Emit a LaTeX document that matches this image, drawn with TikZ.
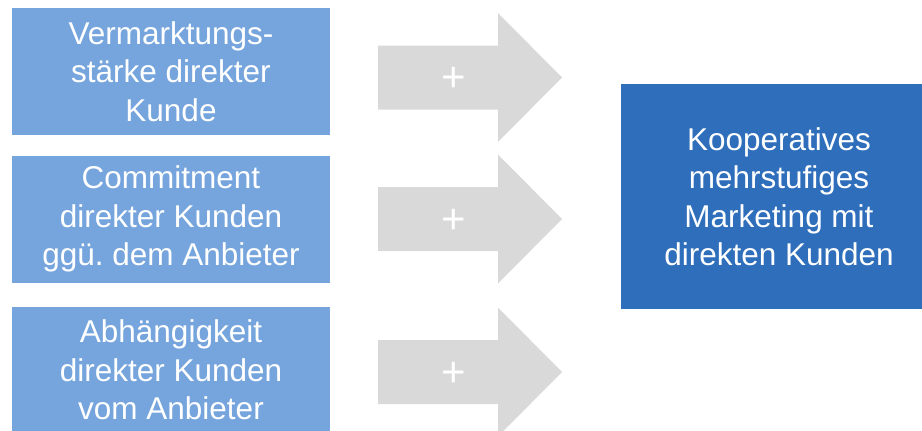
\documentclass[tikz,border=0pt]{standalone}
\usepackage{fontspec}
\setmainfont{Liberation Sans}
\definecolor{lightbox}{RGB}{118,165,221}
\definecolor{darkbox}{RGB}{46,110,187}
\definecolor{arrowgray}{RGB}{217,217,217}
\frenchspacing
\begin{document}
\begin{tikzpicture}[x=1pt,y=-1pt,
  box/.style={fill=lightbox, text=white, align=center, inner sep=0pt,
    font=\fontsize{31.5}{38.5}\selectfont, minimum width=318pt, minimum height=127pt},
  bigbox/.style={fill=darkbox, text=white, align=center, inner sep=0pt,
    font=\fontsize{31.5}{38.5}\selectfont, minimum width=316pt, minimum height=225pt},
  plus/.style={text=white, inner sep=0pt, font=\fontsize{42}{44}\selectfont},
  arrowshape/.style={fill=arrowgray}]
\useasboundingbox (0,0) rectangle (922,431);
\clip (0,0) rectangle (922,431);
\node[box] (b1) at (171,71.5) {Vermarktungs-\\stärke direkter\\Kunde};
\node[box] (b2) at (171,219) {Commitment\\direkter Kunden\\ggü. dem Anbieter};
\node[box] (b3) at (171,370) {Abhängigkeit\\direkter Kunden\\vom Anbieter};
\foreach \c/\n in {77.5/a1,219/a2,372/a3}{
  \fill[arrowshape] (378,\c-32) -- (498,\c-32) -- (498,\c-64.5) -- (562,\c)
    -- (498,\c+64.5) -- (498,\c+32) -- (378,\c+32) -- cycle;
  \node[plus] (\n) at (454,\c+2) {+};
}
\node[bigbox] (r) at (779,196.5) {Kooperatives\\mehrstufiges\\Marketing mit\\direkten Kunden};
\end{tikzpicture}
\end{document}
